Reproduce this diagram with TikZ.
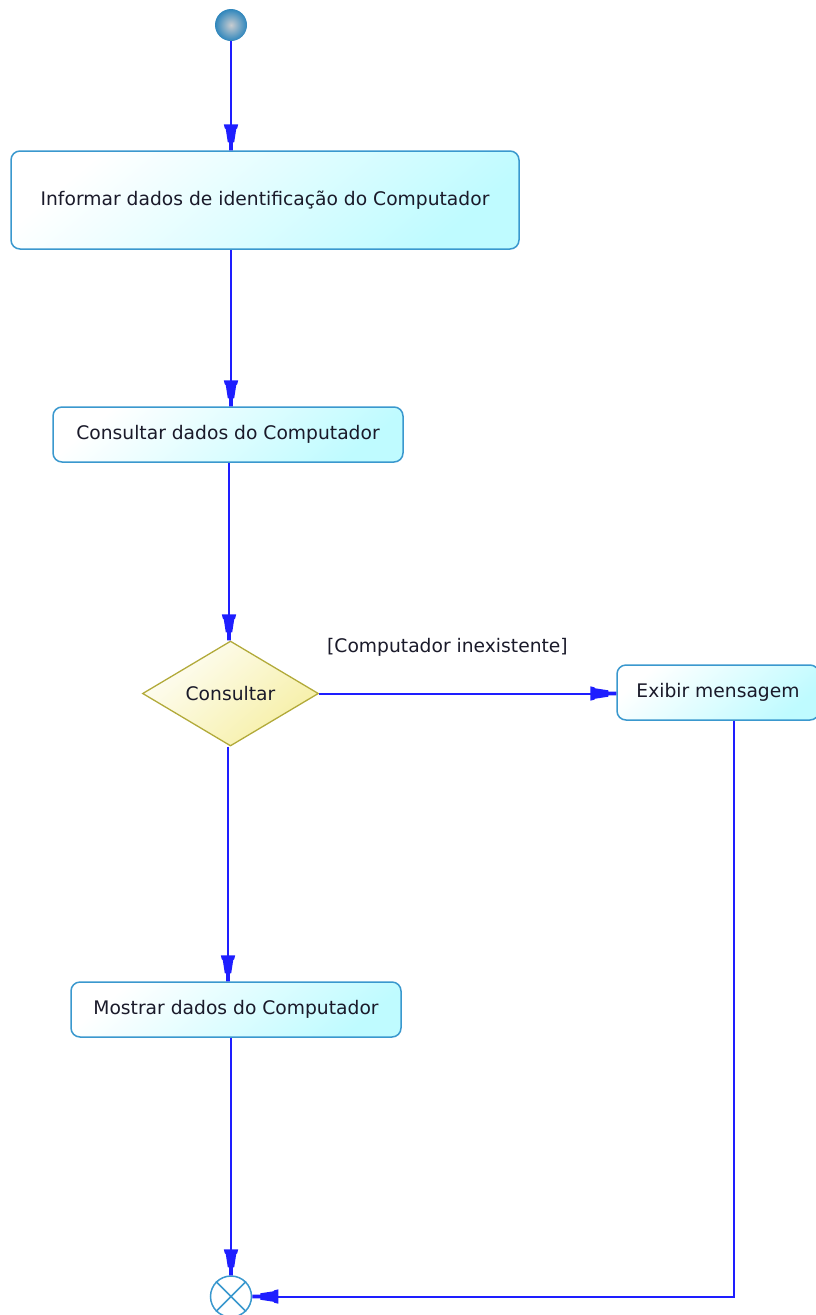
\documentclass[tikz,border=0pt]{standalone}
\usepackage{fontspec}
\setmainfont{DejaVu Sans}
\usetikzlibrary{shapes.geometric,arrows.meta}
\definecolor{lineblue}{HTML}{1E1EFF}
\definecolor{boxborder}{HTML}{3A98CE}
\definecolor{boxcyan}{HTML}{BFFBFF}
\definecolor{decborder}{HTML}{B2AA3A}
\definecolor{decfill}{HTML}{F6EFA4}
\definecolor{ballblue}{HTML}{2F86BC}
\definecolor{ballhi}{HTML}{C8CCD0}
\definecolor{txt}{HTML}{1A1A2A}
\pgfdeclarearrow{
  name=UMLTip,
  setup code={
    \pgfarrowssettipend{0pt}
    \pgfarrowssetlineend{-20pt}
    \pgfarrowssetbackend{-26pt}
    \pgfarrowshullpoint{0pt}{0pt}
    \pgfarrowshullpoint{-26pt}{7pt}
    \pgfarrowshullpoint{-26pt}{-7pt}
  },
  drawing code={
    \pgfpathmoveto{\pgfqpoint{0pt}{1.8pt}}
    \pgfpathlineto{\pgfqpoint{-8pt}{1.8pt}}
    \pgfpathlineto{\pgfqpoint{-8pt}{3.2pt}}
    \pgfpathlineto{\pgfqpoint{-21pt}{5.2pt}}
    \pgfpathlineto{\pgfqpoint{-22pt}{6.2pt}}
    \pgfpathlineto{\pgfqpoint{-26pt}{7.2pt}}
    \pgfpathlineto{\pgfqpoint{-26pt}{-7.2pt}}
    \pgfpathlineto{\pgfqpoint{-22pt}{-6.2pt}}
    \pgfpathlineto{\pgfqpoint{-21pt}{-5.2pt}}
    \pgfpathlineto{\pgfqpoint{-8pt}{-3.2pt}}
    \pgfpathlineto{\pgfqpoint{-8pt}{-1.8pt}}
    \pgfpathlineto{\pgfqpoint{0pt}{-1.8pt}}
    \pgfpathclose
    \pgfusepathqfill
  }
}
\tikzset{
  act/.style={rectangle, rounded corners=9pt, draw=boxborder, line width=1.5pt,
    top color=white, bottom color=boxcyan, shading angle=40,
    font=\fontsize{18.7}{21}\selectfont, text=txt, inner sep=0pt},
  decnode/.style={diamond, draw=decborder, line width=1.3pt, inner sep=0pt,
    top color=white!90!decfill, bottom color=decfill, shading angle=40,
    minimum width=176pt, minimum height=105pt, aspect=1.68,
    font=\fontsize{18.7}{21}\selectfont, text=txt},
  startnode/.style={circle, inner color=ballhi, outer color=ballblue, minimum size=32pt, inner sep=0pt},
  endnode/.style={circle, draw=boxborder, fill=white, line width=1.5pt, minimum size=41pt, inner sep=0pt},
  flow/.style={draw=lineblue, line width=2pt, -UMLTip},
  guard/.style={font=\fontsize{18.7}{21}\selectfont, text=txt, inner sep=0pt}
}
\begin{document}
\begin{tikzpicture}[x=1pt,y=-1pt]
\useasboundingbox (0,0) rectangle (815,1315);
\node[startnode] (start) at (231,25) {};
\node[act, minimum width=508pt, minimum height=98pt] (b1) at (265,200) {Informar dados de identificação do Computador};
\node[act, minimum width=350pt, minimum height=55pt] (b2) at (228,434.5) {Consultar dados do Computador};
\node[decnode] (dec) at (230.5,693.5) {Consultar};
\node[act, minimum width=202pt, minimum height=55pt] (exib) at (718,692.5) {Exibir mensagem};
\node[act, minimum width=330pt, minimum height=55pt] (b3) at (236,1009.5) {Mostrar dados do Computador};
\node[endnode] (end) at (231,1296.5) {};
\draw[boxborder, line width=1.5pt] (end.north east) -- (end.south west) (end.north west) -- (end.south east);
\node[guard, anchor=south west] (g) at (327,657) {[Computador inexistente]};
\coordinate (c1) at (231,0);
\coordinate (c2) at (229,0);
\coordinate (c3) at (228,0);
\coordinate (c4) at (734,0);
\draw[flow] (start.south) -- (start.south |- b1.north);
\draw[flow] (c1 |- b1.south) -- (c1 |- b2.north);
\draw[flow] (c2 |- b2.south) -- (c2 |- dec.north);
\draw[flow] (dec.east) -- (exib.west |- dec.east);
\draw[flow] (c3 |- dec.south) -- (c3 |- b3.north);
\draw[flow] (c1 |- b3.south) -- (end.north);
\draw[flow] (c4 |- exib.south) |- (end.east);
\end{tikzpicture}
\end{document}
